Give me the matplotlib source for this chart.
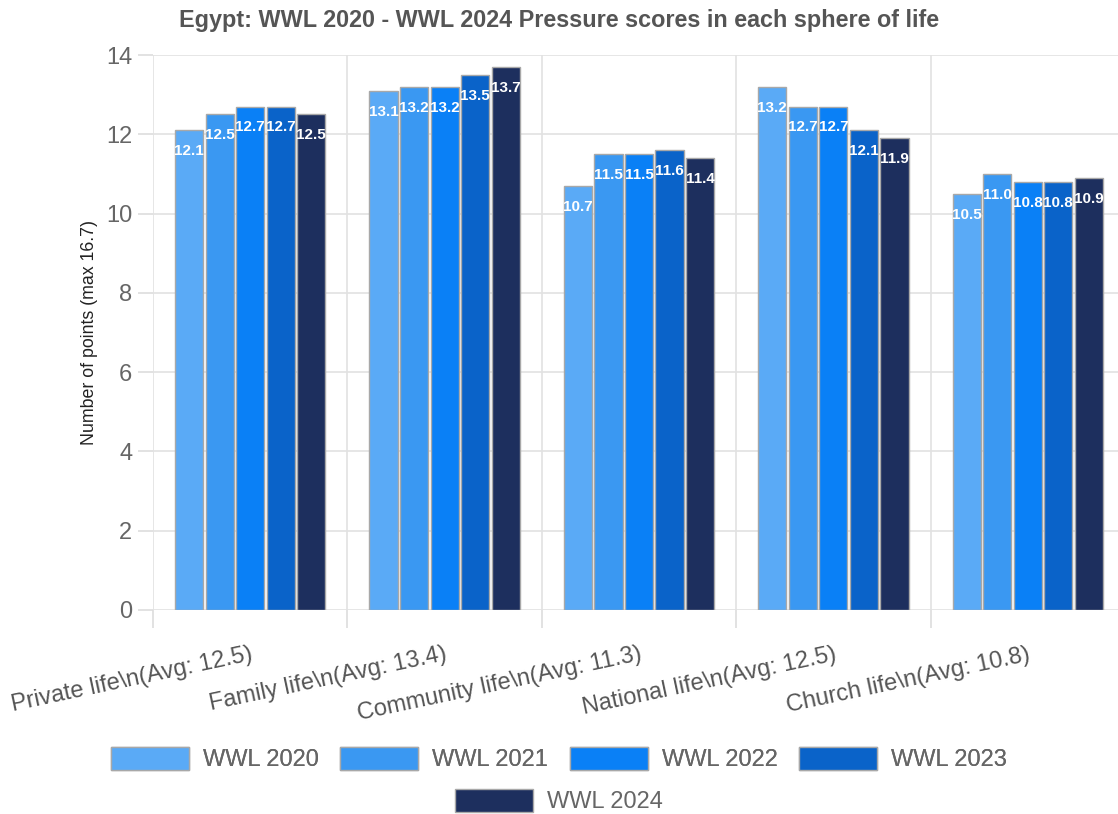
import matplotlib.pyplot as plt
import numpy as np
from matplotlib.patches import Patch

# ---- data ----
categories = ["Private life\\n(Avg: 12.5)", "Family life\\n(Avg: 13.4)",
              "Community life\\n(Avg: 11.3)", "National life\\n(Avg: 12.5)",
              "Church life\\n(Avg: 10.8)"]
series_names = ["WWL 2020", "WWL 2021", "WWL 2022", "WWL 2023", "WWL 2024"]
wwl_2020 = [12.1, 13.1, 10.7, 13.2, 10.5]
wwl_2021 = [12.5, 13.2, 11.5, 12.7, 11.0]
wwl_2022 = [12.7, 13.2, 11.5, 12.7, 10.8]
wwl_2023 = [12.7, 13.5, 11.6, 12.1, 10.8]
wwl_2024 = [12.5, 13.7, 11.4, 11.9, 10.9]
series_values = [wwl_2020, wwl_2021, wwl_2022, wwl_2023, wwl_2024]
colors = ["#5aaaf6", "#3a98f2", "#0a80f6", "#0a63c9", "#1d2f5e"]

plt.rcParams['font.family'] = ['Liberation Sans', 'DejaVu Sans']

fig = plt.figure(figsize=(11.18, 8.14), dpi=100)
ax = fig.add_axes([153 / 1118, 1 - 610 / 814, 972 / 1118, 555 / 814])

x = np.arange(len(categories))
slot = 0.157
bar_w = 0.145
for i, (name, vals, col) in enumerate(zip(series_names, series_values, colors)):
    pos = x + (i - 2) * slot
    bars = ax.bar(pos, vals, width=bar_w, color=col, edgecolor="#a8a8a8",
                  linewidth=1, label=name, zorder=3)
    for b, v in zip(bars, vals):
        ax.annotate(f"{v:.1f}", (b.get_x() + b.get_width() / 2, v),
                    xytext=(0, -15), textcoords="offset points",
                    ha="center", va="center", color="white",
                    fontsize=11, fontweight="bold", zorder=4)

ax.set_xlim(-0.5, len(categories) - 0.5)
ax.set_ylim(0, 14)
ax.set_yticks(range(0, 15, 2))
ax.set_xticks(np.arange(-0.5, len(categories), 1.0))
ax.set_xticklabels([])
ax.set_xticks(x, minor=True)
ax.set_xticklabels(categories, minor=True, rotation=12, ha="right",
                   rotation_mode="anchor", fontsize=17, color="#555555")
ax.tick_params(axis="x", which="minor", length=0, pad=24)
ax.tick_params(axis="x", which="major", length=13, color="#dddddd", width=1.2)
ax.tick_params(axis="y", length=11, color="#dddddd", width=1.2,
               labelsize=17, labelcolor="#666666", pad=4)

for s in ax.spines.values():
    s.set_visible(False)
ax.grid(True, which="major", color="#e2e2e2", linewidth=1.2, zorder=0)
ax.set_axisbelow(True)

ax.set_ylabel("Number of points (max 16.7)", fontsize=12.8, color="#222222",
              labelpad=6)
fig.text(0.5, 1 - 20 / 814, "Egypt: WWL 2020 - WWL 2024 Pressure scores in each sphere of life",
         ha="center", va="center", fontsize=16.8, fontweight="bold", color="#555555")

# legend: 4 on first row, 1 centred on second row
handles = [Patch(facecolor=c, edgecolor="#a8a8a8", label=n)
           for c, n in zip(colors, series_names)]
leg_kw = dict(frameon=False, fontsize=17, handlelength=3.3, handleheight=1.15,
              handletextpad=0.6, columnspacing=0.9, labelcolor="#666666")
leg1 = fig.legend(handles=handles[:4], loc="center", ncol=4,
                  bbox_to_anchor=(0.5, 1 - 759 / 814), **leg_kw)
fig.add_artist(leg1)
fig.legend(handles=handles[4:], loc="center", ncol=1,
           bbox_to_anchor=(0.5, 1 - 801 / 814), **leg_kw)

fig.savefig("out.png", dpi=100)
